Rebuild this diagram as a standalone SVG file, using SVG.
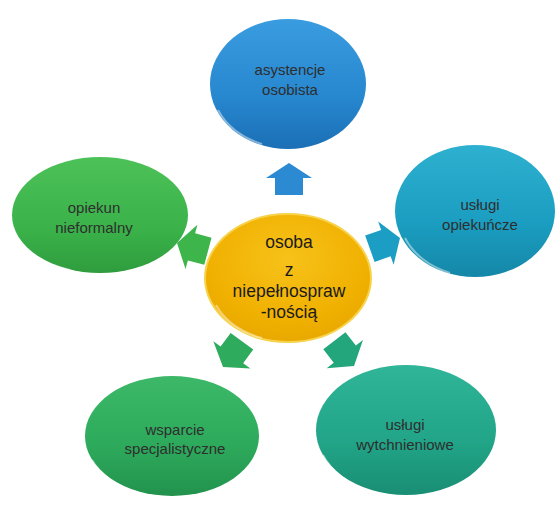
<svg xmlns="http://www.w3.org/2000/svg" width="558" height="506" viewBox="0 0 558 506">
<defs>
<linearGradient id="gBlue" x1="0" y1="0" x2="0" y2="1"><stop offset="0" stop-color="#3a9ce0"/><stop offset="0.6" stop-color="#2787cf"/><stop offset="1" stop-color="#1b6fb5"/></linearGradient>
<linearGradient id="gTeal" x1="0" y1="0" x2="0" y2="1"><stop offset="0" stop-color="#2eb0d0"/><stop offset="0.6" stop-color="#1a9dc0"/><stop offset="1" stop-color="#1587a8"/></linearGradient>
<linearGradient id="gGreen" x1="0" y1="0" x2="0" y2="1"><stop offset="0" stop-color="#4cc158"/><stop offset="0.6" stop-color="#3bb34a"/><stop offset="1" stop-color="#2f9c3d"/></linearGradient>
<linearGradient id="gGreen2" x1="0" y1="0" x2="0" y2="1"><stop offset="0" stop-color="#3cb868"/><stop offset="0.6" stop-color="#2da95b"/><stop offset="1" stop-color="#22924d"/></linearGradient>
<linearGradient id="gSea" x1="0" y1="0" x2="0" y2="1"><stop offset="0" stop-color="#30b598"/><stop offset="0.6" stop-color="#21a487"/><stop offset="1" stop-color="#198e74"/></linearGradient>
<radialGradient id="gYellow" cx="0.5" cy="0.35" r="0.65"><stop offset="0" stop-color="#f7c21a"/><stop offset="0.75" stop-color="#f0b000"/><stop offset="1" stop-color="#e9a800"/></radialGradient>
<path id="arr" d="M0,0 L23,15 L14,15 L14,32 L-14,32 L-14,15 L-23,15 Z"/>
</defs>
<style>
.t{font-family:"Liberation Sans",Arial,sans-serif;font-size:15px;fill:#2e2e2e;text-anchor:middle}
.c{font-family:"Liberation Sans",Arial,sans-serif;font-size:17.5px;fill:#1a1a1a;text-anchor:middle}
.gloss{fill:none;stroke:#ffffff;stroke-opacity:0.45;stroke-width:2}
</style>
<rect width="558" height="506" fill="#ffffff"/>
<g id="connectors">
<use href="#arr" transform="translate(289,163)" fill="#2b8ad2"/>
<use href="#arr" transform="translate(177,243) rotate(-75)" fill="#3db54b"/>
<use href="#arr" transform="translate(400,238) rotate(70.3)" fill="#1c9ec4"/>
<use href="#arr" transform="translate(223,367) rotate(-143.7)" fill="#2eab5c"/>
<use href="#arr" transform="translate(354,366) rotate(142.2)" fill="#23a67c"/>
</g>
<g id="n-top">
<ellipse cx="288" cy="84" rx="78" ry="65" fill="url(#gBlue)"/>
<path class="gloss" d="M218,110 A76,62 0 0 0 262,144"/>
<text class="t" x="290" y="75">asystencje</text>
<text class="t" x="290" y="95">osobista</text>
</g>
<g id="n-left">
<ellipse cx="100" cy="215" rx="88" ry="58" fill="url(#gGreen)"/>
<path class="gloss" d="M18,238 A86,56 0 0 0 70,270"/>
<text class="t" x="94" y="213">opiekun</text>
<text class="t" x="94" y="233">nieformalny</text>
</g>
<g id="n-right">
<ellipse cx="475" cy="211" rx="80" ry="66" fill="url(#gTeal)"/>
<path class="gloss" d="M405,238 A78,64 0 0 0 450,273"/>
<text class="t" x="480" y="210">usługi</text>
<text class="t" x="480" y="230">opiekuńcze</text>
</g>
<g id="n-center">
<ellipse cx="288" cy="278" rx="83" ry="64" fill="url(#gYellow)" stroke="#f7d24a" stroke-width="2"/>
<path class="gloss" d="M216,305 A80,61 0 0 0 262,338"/>
<text class="c" x="289" y="248">osoba</text>
<text class="c" x="289" y="276" font-size="15" fill="#555">z</text>
<text class="c" x="289" y="297">niepełnospraw</text>
<text class="c" x="289" y="318">-nością</text>
</g>
<g id="n-bl">
<ellipse cx="172" cy="436" rx="87" ry="60" fill="url(#gGreen2)"/>
<path class="gloss" d="M92,460 A85,58 0 0 0 140,493"/>
<text class="t" x="175" y="435">wsparcie</text>
<text class="t" x="175" y="454">specjalistyczne</text>
</g>
<g id="n-br">
<ellipse cx="406" cy="430" rx="90" ry="65" fill="url(#gSea)"/>
<path class="gloss" d="M323,455 A88,63 0 0 0 372,492"/>
<text class="t" x="405" y="430">usługi</text>
<text class="t" x="405" y="450">wytchnieniowe</text>
</g>
</svg>
